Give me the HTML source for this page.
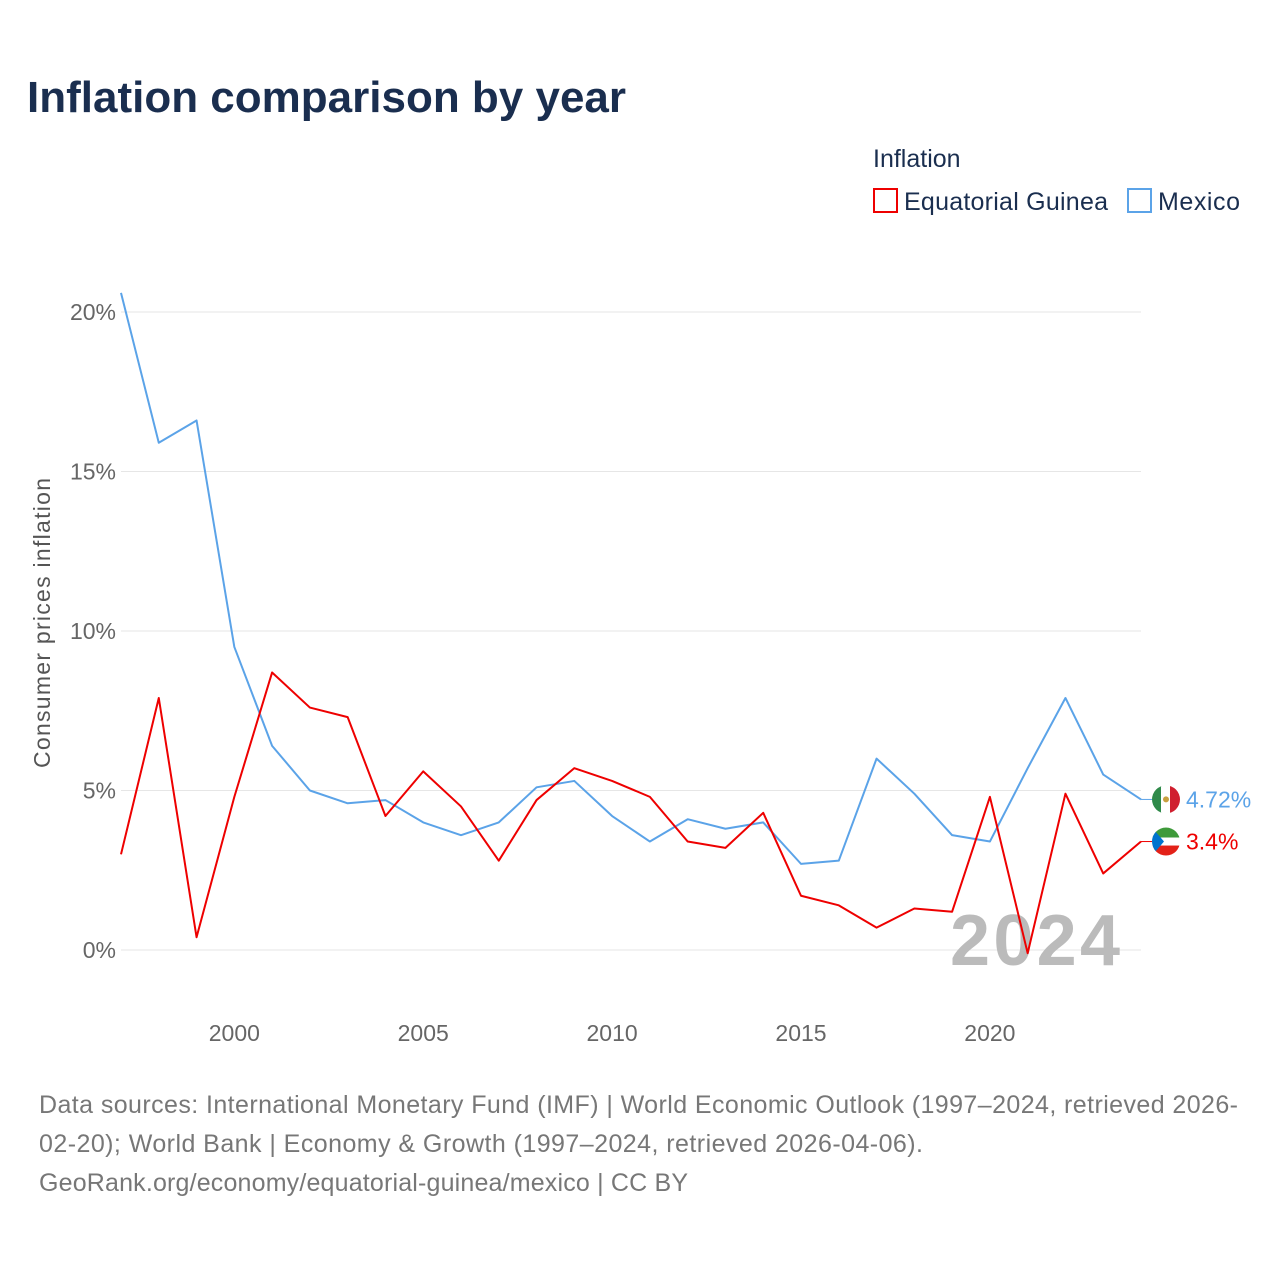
<!DOCTYPE html>
<html><head><meta charset="utf-8"><style>
body{margin:0;background:#fff;font-family:"Liberation Sans",sans-serif}
svg{display:block}
text{font-family:"Liberation Sans",sans-serif}
</style></head><body>
<svg id="chart" width="1280" height="1280" viewBox="0 0 1280 1280">
<defs>
<clipPath id="c1"><circle cx="1166" cy="0" r="14"/></clipPath>
</defs>
<text x="27" y="112" font-size="44" font-weight="bold" fill="#1a2e4f">Inflation comparison by year</text>
<text x="873" y="167" font-size="25" fill="#1a2e4f">Inflation</text>
<g><rect x="874" y="189" width="23" height="23" fill="none" stroke="#ee0000" stroke-width="2"/><text x="904" y="210" font-size="25" fill="#1a2e4f" textLength="204">Equatorial Guinea</text></g>
<g><rect x="1128" y="189" width="23" height="23" fill="none" stroke="#5ba3e8" stroke-width="2"/><text x="1158" y="210" font-size="25" fill="#1a2e4f" textLength="82">Mexico</text></g>
<g id="grid"></g>
<g id="yticks"></g>
<g id="xticks"></g>
<text transform="translate(50,623) rotate(-90)" text-anchor="middle" font-size="23" fill="#555" textLength="290">Consumer prices inflation</text>
<text x="1120" y="965" text-anchor="end" font-size="72" font-weight="bold" fill="#bbb" textLength="170">2024</text>
<g id="series"></g>
<text x="39" y="1113" font-size="25" fill="#777" textLength="1199">Data sources: International Monetary Fund (IMF) | World Economic Outlook (1997–2024, retrieved 2026-</text>
<text x="39" y="1152" font-size="25" fill="#777" textLength="884">02-20); World Bank | Economy &amp; Growth (1997–2024, retrieved 2026-04-06).</text>
<text x="39" y="1191" font-size="25" fill="#777" textLength="649">GeoRank.org/economy/equatorial-guinea/mexico | CC BY</text>
</svg>
<script>
const years=[1997,1998,1999,2000,2001,2002,2003,2004,2005,2006,2007,2008,2009,2010,2011,2012,2013,2014,2015,2016,2017,2018,2019,2020,2021,2022,2023,2024];
const mexico=[20.6,15.9,16.6,9.5,6.4,5.0,4.6,4.7,4.0,3.6,4.0,5.1,5.3,4.2,3.4,4.1,3.8,4.0,2.7,2.8,6.0,4.9,3.6,3.4,5.7,7.9,5.5,4.72];
const eqGuinea=[3.0,7.9,0.4,4.8,8.7,7.6,7.3,4.2,5.6,4.5,2.8,4.7,5.7,5.3,4.8,3.4,3.2,4.3,1.7,1.4,0.7,1.3,1.2,4.8,-0.1,4.9,2.4,3.4];
const yTicks=[0,5,10,15,20];
const xTicks=[2000,2005,2010,2015,2020];
const NS="http://www.w3.org/2000/svg";
const x=v=>121+(v-1997)*(1141-121)/27;
const y=v=>950-v*31.9;
function mk(t,a,p){const e=document.createElementNS(NS,t);for(const k in a)e.setAttribute(k,a[k]);p.appendChild(e);return e;}
const grid=document.getElementById('grid'),yt=document.getElementById('yticks'),xt=document.getElementById('xticks'),se=document.getElementById('series');
const defs=document.querySelector('defs');
yTicks.forEach(v=>{
 const l=mk('line',{x1:121,x2:1141,y1:y(v),y2:y(v),stroke:'#e6e6e6','stroke-width':1},grid);
 
 
 const t=mk('text',{x:116,y:y(v)+8,'text-anchor':'end','font-size':23,fill:'#666'},yt);
 t.textContent=v+'%';
 
 
});
xTicks.forEach(v=>{
 const t=mk('text',{x:x(v),y:1041,'text-anchor':'middle','font-size':23,fill:'#666'},xt);
 t.textContent=v;
 
 
});
function line(vals,color,name,flag){
 const p=mk('polyline',{points:vals.map((v,i)=>x(years[i])+','+y(v)).join(' '),fill:'none',stroke:color,'stroke-width':2,'stroke-linejoin':'round'},se);
 
 
 const lv=vals[vals.length-1],ly=y(lv);
 const l=mk('line',{x1:1141,x2:1152,y1:ly,y2:ly,stroke:color,'stroke-width':1},se);
 
 
 const cp=mk('clipPath',{id:'clip-'+name},defs);
 mk('circle',{cx:1166,cy:ly,r:14},cp);
 const g=mk('g',{'clip-path':'url(#clip-'+name+')'},se);
 
 
 if(flag==='mx'){
  mk('rect',{x:1152,y:ly-14,width:10,height:28,fill:'#2f8a4a'},g);
  mk('rect',{x:1161,y:ly-14,width:10,height:28,fill:'#fff'},g);
  mk('rect',{x:1170,y:ly-14,width:10,height:28,fill:'#d01f2f'},g);
  mk('circle',{cx:1166,cy:ly,r:3,fill:'#c8a040'},g);
 }else{
  mk('rect',{x:1152,y:ly-14,width:28,height:10,fill:'#3e9a3a'},g);
  mk('rect',{x:1152,y:ly-4,width:28,height:8,fill:'#fff'},g);
  mk('rect',{x:1152,y:ly+4,width:28,height:10,fill:'#e32118'},g);
  mk('polygon',{points:`1152,${ly-14} 1164,${ly} 1152,${ly+14}`,fill:'#0073ce'},g);
 }
 const t=mk('text',{x:1186,y:ly+8,'font-size':23,fill:color},se);
 t.textContent=lv+'%';
 
 
}
line(mexico,'#5ba3e8','mexico-line','mx');
line(eqGuinea,'#ee0000','equatorial-guinea-line','gq');
</script>
</body></html>
